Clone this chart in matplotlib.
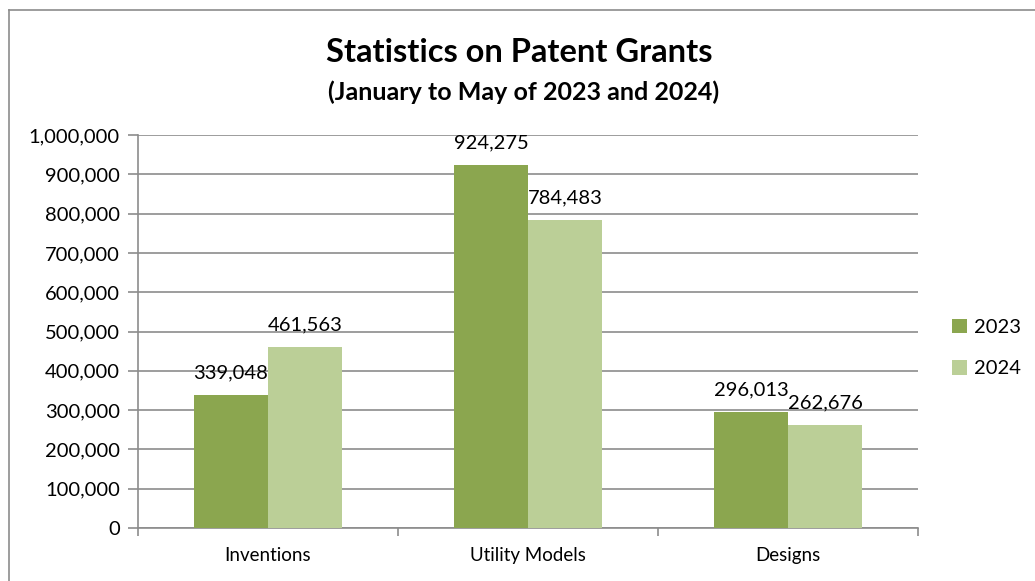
import numpy as np
import matplotlib
matplotlib.use('Agg')
import matplotlib.pyplot as plt
from matplotlib.ticker import FuncFormatter

plt.rcParams['font.family'] = ['Lato', 'DejaVu Sans']

# -------------------------------
# data
# -------------------------------
categories = ['Inventions', 'Utility Models', 'Designs']
series_names = ['2023', '2024']
values_2023 = [339048, 924275, 296013]
values_2024 = [461563, 784483, 262676]
colors = ['#8BA64F', '#BBCF97']

fig = plt.figure(figsize=(10.35, 5.81), dpi=100)
ax = fig.add_axes([138 / 1035, 1 - 528 / 581, 780 / 1035, 393 / 581])

# chart border (left/top only visible in reference)
fig.add_artist(plt.Line2D([9 / 1035, 9 / 1035], [0, 1 - 10 / 581], color='#8C8C8C', lw=1.2))
fig.add_artist(plt.Line2D([9 / 1035, 1], [1 - 10 / 581, 1 - 10 / 581], color='#8C8C8C', lw=1.2))

x = np.arange(len(categories))
w = 0.285
for i, (vals, name) in enumerate(zip([values_2023, values_2024], series_names)):
    pos = x + (i - 0.5) * w
    ax.bar(pos, vals, width=w, color=colors[i], label=name, zorder=3)
    for p, v in zip(pos, vals):
        ax.text(p, v + 33000, f'{v:,}', ha='center', va='bottom', fontsize=14.5)

ax.set_xlim(-0.5, 2.5)
ax.set_ylim(0, 1000000)
ax.set_yticks(np.arange(0, 1000001, 100000))
ax.yaxis.set_major_formatter(FuncFormatter(lambda v, _: f'{int(v):,}'))
ax.grid(axis='y', color='#8C8C8C', lw=1.2, zorder=0)

ax.set_xticks(x)
ax.set_xticklabels(categories, fontsize=13.5)
ax.set_xticks([-0.5, 0.5, 1.5, 2.5], minor=True)
ax.tick_params(axis='x', which='major', length=0, pad=14)
ax.tick_params(axis='x', which='minor', length=6, color='#8C8C8C', width=1.2)
ax.tick_params(axis='y', length=7, color='#8C8C8C', width=1.2, labelsize=14.5, pad=6)

for s in ['top', 'right']:
    ax.spines[s].set_visible(False)
for s in ['left', 'bottom']:
    ax.spines[s].set_color('#8C8C8C')
    ax.spines[s].set_linewidth(1.2)

fig.text(519 / 1035, 1 - 52 / 581, 'Statistics on Patent Grants', ha='center', va='center',
         fontsize=23.5, fontweight='bold')
fig.text(524 / 1035, 1 - 92 / 581, '(January to May of 2023 and 2024)', ha='center', va='center',
         fontsize=18, fontweight='bold')

leg = fig.legend(loc='center left', bbox_to_anchor=(952 / 1035, 1 - 348 / 581), frameon=False,
                 fontsize=14.5, handlelength=0.75, handleheight=0.75, labelspacing=1.2,
                 handletextpad=0.35, borderaxespad=0, borderpad=0)

fig.savefig('out.png', dpi=100)
